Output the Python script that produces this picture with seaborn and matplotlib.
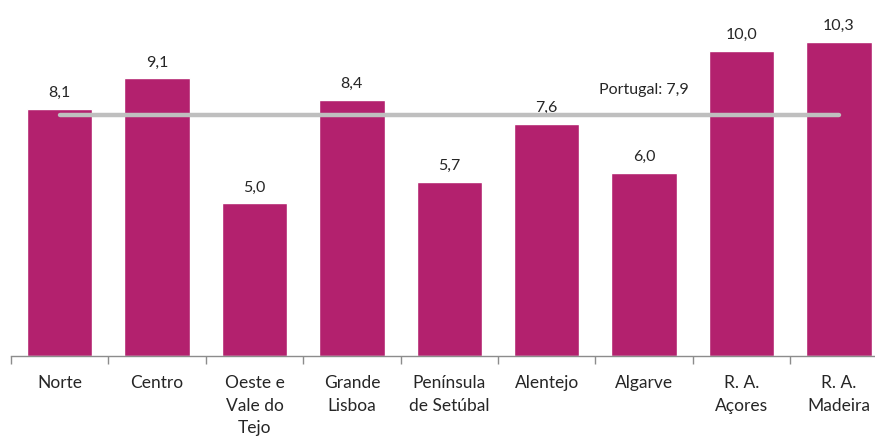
import pandas as pd
import matplotlib.pyplot as plt
import seaborn as sns

regions = ["Norte", "Centro", "Oeste e\nVale do\nTejo", "Grande\nLisboa",
           "Península\nde Setúbal", "Alentejo", "Algarve", "R. A.\nAçores",
           "R. A.\nMadeira"]
values = [8.1, 9.1, 5.0, 8.4, 5.7, 7.6, 6.0, 10.0, 10.3]
portugal = 7.9

df = pd.DataFrame({"regiao": regions, "valor": values})

sns.set_theme(style="white")
plt.rcParams["font.family"] = ["Lato", "DejaVu Sans"]

fig = plt.figure(figsize=(8.75, 4.39), dpi=100)
ax = fig.add_axes([11 / 875, 82 / 439, 864 / 875, 357 / 439])

sns.barplot(data=df, x="regiao", y="valor", color="#B3216E", width=0.67,
            saturation=1, ax=ax)

# linha da média nacional
ax.plot([0, len(regions) - 1], [portugal, portugal], color="#BFBFBF",
        linewidth=3.2, solid_capstyle="round", zorder=5)
ax.text(6, portugal + 0.85, "Portugal: " + f"{portugal:.1f}".replace(".", ","),
        ha="center", va="center", fontsize=11.5, color="#262626")

for i, v in enumerate(values):
    ax.text(i, v + 0.55, f"{v:.1f}".replace(".", ","), ha="center",
            va="center", fontsize=11.5, color="#262626")

ax.set_xlabel("")
ax.set_ylabel("")
ax.set_yticks([])
for s in ["top", "right", "left"]:
    ax.spines[s].set_visible(False)
ax.spines["bottom"].set_color("#8C8C8C")
ax.spines["bottom"].set_linewidth(1)

ax.set_xticks(range(len(regions)))
ax.set_xticklabels(regions, fontsize=12.5, color="#262626", linespacing=1.5,
                   va="top")
ax.set_xticks([i + 0.5 for i in range(-1, len(regions))], minor=True)
ax.tick_params(axis="x", which="major", length=0, pad=13)
ax.tick_params(axis="x", which="minor", length=6, width=1, color="#8C8C8C",
               direction="out", bottom=True)

# limites depois dos ticks (set_xticks alarga a vista)
ax.set_xlim(-0.5, -0.5 + 864 / 97.4)
ax.set_ylim(0, 11.7)

fig.savefig("out.png", dpi=100)
